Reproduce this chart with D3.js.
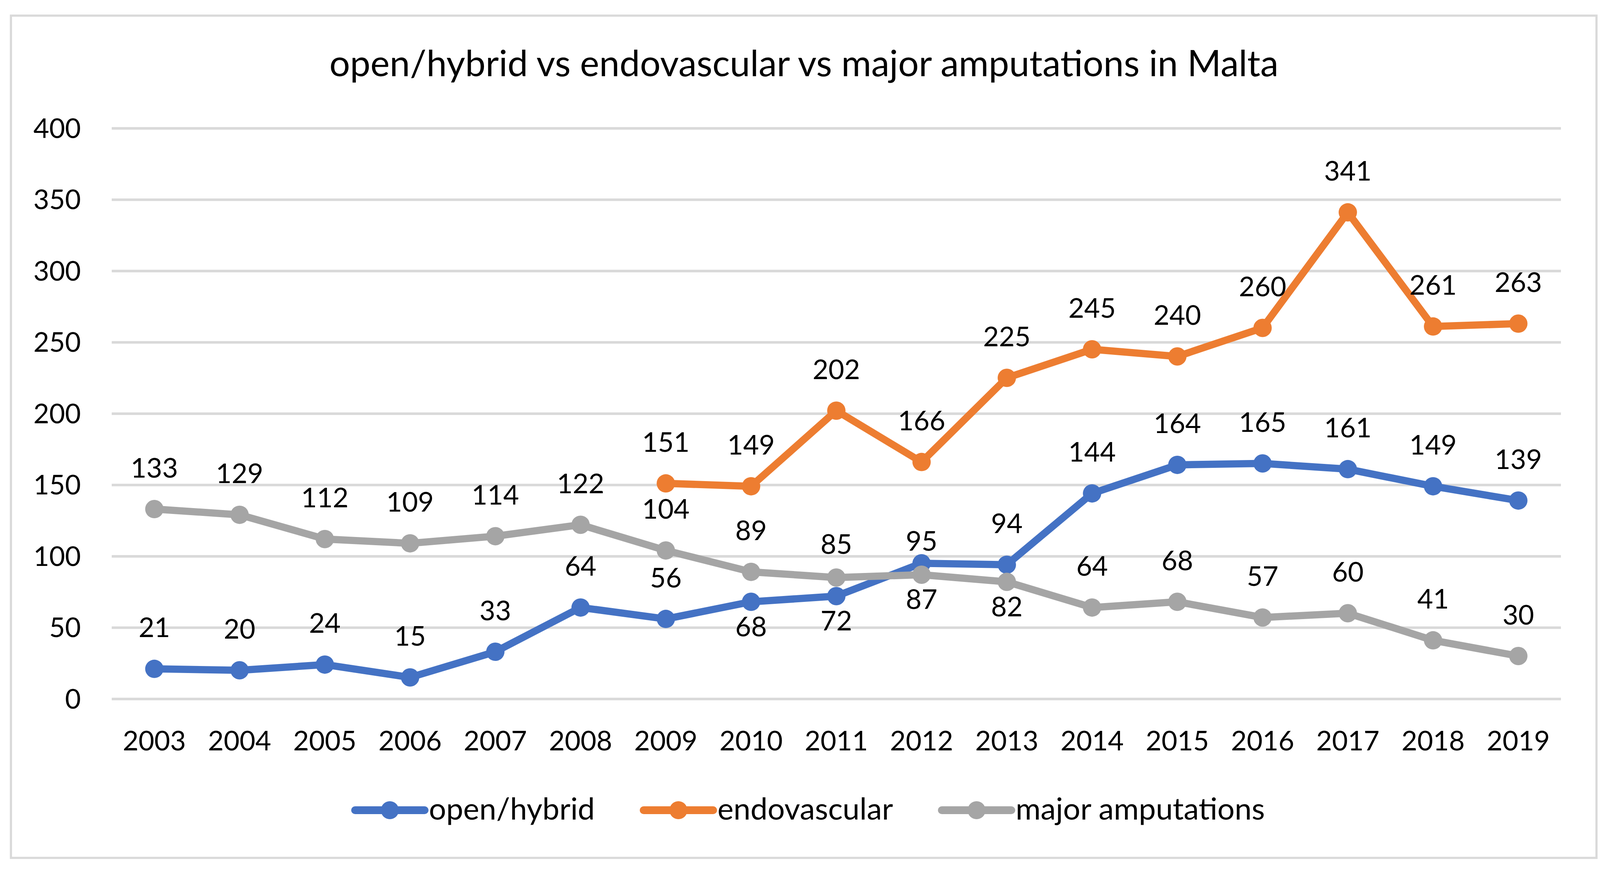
<!DOCTYPE html>
<html>
<head>
<meta charset="utf-8">
<script src="https://cdn.jsdelivr.net/npm/d3@7"></script>
<style>
  html, body { margin: 0; padding: 0; background: #ffffff; }
  svg { display: block; }
  text { font-family: Lato, "Open Sans", "Noto Sans", sans-serif; fill: #000; }
</style>
</head>
<body>
<svg id="chart" width="4120" height="2226"></svg>
<script>
// ---------- data ----------
const years = [2003, 2004, 2005, 2006, 2007, 2008, 2009, 2010, 2011, 2012, 2013, 2014, 2015, 2016, 2017, 2018, 2019];
const openHybrid = [21, 20, 24, 15, 33, 64, 56, 68, 72, 95, 94, 144, 164, 165, 161, 149, 139];
const endovascular = [null, null, null, null, null, null, 151, 149, 202, 166, 225, 245, 240, 260, 341, 261, 263];
const majorAmputations = [133, 129, 112, 109, 114, 122, 104, 89, 85, 87, 82, 64, 68, 57, 60, 41, 30];
const seriesNames = ["open/hybrid", "endovascular", "major amputations"];
const yTickValues = [0, 50, 100, 150, 200, 250, 300, 350, 400];
const titleText = "open/hybrid vs endovascular vs major amputations in Malta";

// ---------- layout / style (not data) ----------
const W = 4120, H = 2226;
const plot = { left: 286, right: 3996, top: 328, bottom: 1788 };
const colors = { "open/hybrid": "#4472C4", "endovascular": "#ED7D31", "major amputations": "#A5A5A5" };
const lineWidth = 18.5, markerR = 23.5;
// labels placed below their point, and labels pulled closer to the point
const labelsBelow = { "open/hybrid": [2010, 2011], "major amputations": [2012, 2013] };
const labelNudge = { "open/hybrid|2012": 49, "major amputations|2011": 20 };

function draw() {
  const svg = d3.select("#chart");
  svg.append("rect").attr("width", W).attr("height", H).attr("fill", "#fff");

  // measure fonts to match reference widths
  const meas = svg.append("text").attr("font-size", 100).attr("x", -9999).attr("y", -9999);
  function fit(str, target) { meas.text(str); return 100 * target / meas.node().getComputedTextLength(); }
  const fsTitle = fit(titleText, 2430);
  const fsTick = fit("2019", 162);
  const fsLegend = fit("major amputations", 638);
  meas.remove();

  // chart border
  svg.append("rect").attr("x", 28).attr("y", 40).attr("width", 4087 - 28).attr("height", 2195 - 40)
    .attr("fill", "none").attr("stroke", "#D9D9D9").attr("stroke-width", 5.5);

  // title
  svg.append("text").attr("x", 2058).attr("y", 195).attr("text-anchor", "middle")
    .attr("font-size", fsTitle).text(titleText);

  const x = d3.scaleBand().domain(years).range([plot.left, plot.right]);
  const cx = d => x(d) + x.bandwidth() / 2;
  const y = d3.scaleLinear().domain([0, 400]).range([plot.bottom, plot.top]);

  // y axis + gridlines
  const gy = svg.append("g").attr("transform", `translate(${plot.left},0)`)
    .call(d3.axisLeft(y).tickValues(yTickValues).tickSize(-(plot.right - plot.left)).tickPadding(79));
  gy.select(".domain").remove();
  gy.selectAll(".tick line").attr("stroke", "#D9D9D9").attr("stroke-width", 6.5);
  gy.selectAll(".tick text").attr("font-size", fsTick).attr("font-family", null).attr("fill", "#000")
    .attr("dy", "0.35em");

  // x axis
  const gx = svg.append("g").attr("transform", `translate(0,${plot.bottom})`)
    .call(d3.axisBottom(x).tickSize(0));
  gx.select(".domain").remove();
  gx.selectAll(".tick text").attr("font-size", fsTick).attr("font-family", null).attr("fill", "#000")
    .attr("y", 132).attr("dy", 0);

  const series = [
    { name: seriesNames[0], values: openHybrid },
    { name: seriesNames[1], values: endovascular },
    { name: seriesNames[2], values: majorAmputations }
  ];

  const line = d3.line().defined(d => d.v != null).x(d => cx(d.year)).y(d => y(d.v));

  series.forEach(s => {
    const pts = years.map((yr, i) => ({ year: yr, v: s.values[i] }));
    const g = svg.append("g");
    g.append("path").datum(pts).attr("d", line).attr("fill", "none")
      .attr("stroke", colors[s.name]).attr("stroke-width", lineWidth).attr("stroke-linejoin", "round");
    g.selectAll("circle").data(pts.filter(d => d.v != null)).join("circle")
      .attr("cx", d => cx(d.year)).attr("cy", d => y(d.v)).attr("r", markerR)
      .attr("fill", colors[s.name]);
  });

  // data labels
  const lg = svg.append("g");
  series.forEach(s => {
    const pts = years.map((yr, i) => ({ year: yr, v: s.values[i] })).filter(d => d.v != null);
    lg.selectAll(null).data(pts).join("text")
      .attr("x", d => cx(d.year))
      .attr("y", d => {
        const below = (labelsBelow[s.name] || []).includes(d.year);
        const nudge = labelNudge[s.name + "|" + d.year] || 0;
        return below ? y(d.v) + 88 : y(d.v) - 81 + nudge;
      })
      .attr("text-anchor", "middle").attr("font-size", fsTick).text(d => d.v);
  });

  // legend
  const legend = svg.append("g");
  const lineLen = 178, gapText = 11, gapItem = 125, legY = 2073;
  let cur = 909;
  seriesNames.forEach(name => {
    legend.append("line").attr("x1", cur).attr("x2", cur + lineLen).attr("y1", legY).attr("y2", legY)
      .attr("stroke", colors[name]).attr("stroke-width", 20).attr("stroke-linecap", "round");
    legend.append("circle").attr("cx", cur + lineLen / 2).attr("cy", legY).attr("r", 23).attr("fill", colors[name]);
    const t = legend.append("text").attr("x", cur + lineLen + gapText).attr("y", legY + 24)
      .attr("font-size", fsLegend).text(name);
    cur += lineLen + gapText + t.node().getComputedTextLength() + gapItem;
  });
}

if (document.fonts && document.fonts.ready) { document.fonts.ready.then(draw); } else { draw(); }
</script>
</body>
</html>
